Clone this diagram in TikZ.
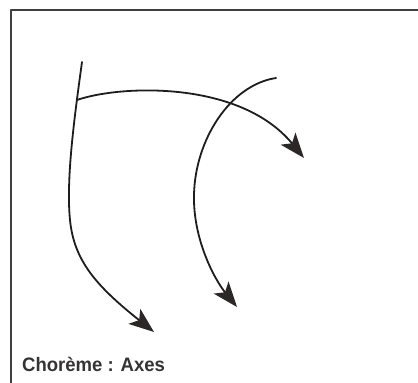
\documentclass[tikz,border=0pt]{standalone}
\usepackage{fontspec}
\setmainfont{Liberation Sans}
\usetikzlibrary{arrows.meta}
\definecolor{ink}{HTML}{1E1C1C}
\definecolor{tipink}{HTML}{2B2727}
\begin{document}
\begin{tikzpicture}[x=1pt,y=-1pt,line cap=round,line join=round,
  axe/.style={ink,line width=1.8pt,-{Stealth[length=25pt,width=19pt,inset=6pt,fill=tipink,tipink]}}]
  \useasboundingbox (0,0) rectangle (418,383);
  \coordinate (F1) at (11,390); \coordinate (F2) at (11,10); \coordinate (F3) at (425,10);
  \draw[line width=1.3pt,ink!85] (F1)--(F2)--(F3);
  % the three axes
  \coordinate (A0) at (82,62); \coordinate (A1) at (70,220); \coordinate (A2) at (154,332);
  \coordinate (B0) at (77,100); \coordinate (B1) at (304,158);
  \coordinate (C0) at (276,78); \coordinate (C1) at (194,195); \coordinate (C2) at (237,307);
  \draw[axe] (A0) .. controls (74,120) and (66,180) .. (A1)
    .. controls (74,260) and (95,285) .. (A2);
  \draw[axe] (B0) .. controls (120,85) and (240,80) .. (B1);
  \draw[axe] (C0) .. controls (230,85) and (195,140) .. (C1)
    .. controls (193,240) and (215,280) .. (C2);
  \node[anchor=base west,inner sep=0pt,font=\bfseries\fontsize{19.5}{21}\selectfont,text=ink!90] (title) at (22,371) {\scalebox{0.95}[1]{Chorème : Axes}};
\end{tikzpicture}
\end{document}
